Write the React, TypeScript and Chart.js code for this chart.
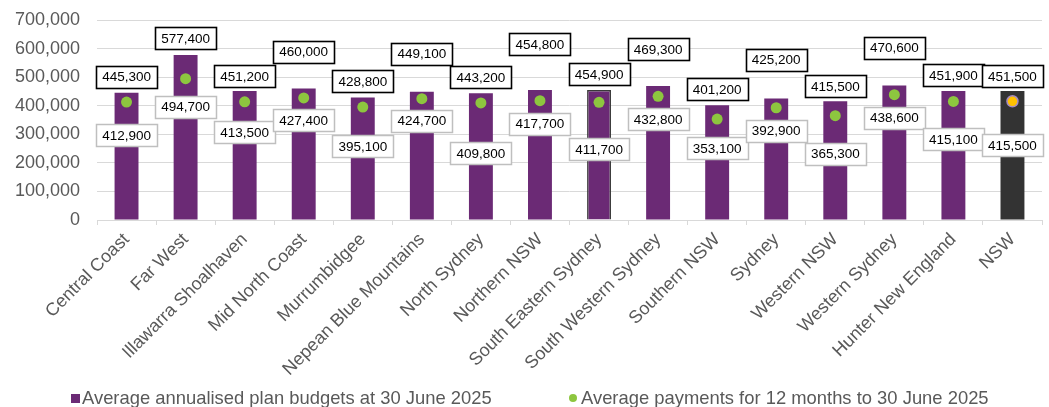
import React, { useEffect, useRef } from "react";
import { Chart, registerables } from "chart.js";

Chart.register(...registerables);

const categories = [
  "Central Coast",
  "Far West",
  "Illawarra Shoalhaven",
  "Mid North Coast",
  "Murrumbidgee",
  "Nepean Blue Mountains",
  "North Sydney",
  "Northern NSW",
  "South Eastern Sydney",
  "South Western Sydney",
  "Southern NSW",
  "Sydney",
  "Western NSW",
  "Western Sydney",
  "Hunter New England",
  "NSW",
];

const budgets = [
  445300, 577400, 451200, 460000, 428800, 449100, 443200, 454800, 454900,
  469300, 401200, 425200, 415500, 470600, 451900, 451500,
];

const payments = [
  412900, 494700, 413500, 427400, 395100, 424700, 409800, 417700, 411700,
  432800, 353100, 392900, 365300, 438600, 415100, 415500,
];

const yTicks = [0, 100000, 200000, 300000, 400000, 500000, 600000, 700000];

const seriesNames = [
  "Average annualised plan budgets at 30 June 2025",
  "Average payments for 12 months to 30 June 2025",
];

// label offsets (px) relative to the mark, mimicking manual placement
const budgetLabelLift = [16, 17, 15, 37, 16, 38, 16, 46, 16, 37, 16, 39, 15, 38, 16, 15];
const paymentLabelDrop = [33, 28, 30, 22, 39, 22, 50, 23, 47, 23, 29, 23, 38, 23, 38, 44];

const PURPLE = "#6B2A75";
const TOTAL_BAR = "#333333";
const GREEN = "#8DC63F";
const ORANGE = "#FFC000";
const FONT = '"Liberation Sans", Arial, sans-serif';

const fmt = (v: number) => v.toLocaleString("en-US");

const boxLabelPlugin = {
  id: "boxLabels",
  afterDatasetsDraw(chart: any) {
    const ctx = chart.ctx;
    const ptMeta = chart.getDatasetMeta(0);
    const barMeta = chart.getDatasetMeta(1);
    ctx.save();
    ctx.font = `13.5px ${FONT}`;
    ctx.textAlign = "center";
    ctx.textBaseline = "middle";
    const h = 22;
    const drawBox = (cx: number, cy: number, text: string, border: string, lw: number) => {
      const w = Math.round(ctx.measureText(text).width + 12);
      const x = Math.round(cx - w / 2) + 0.5;
      const y = Math.round(cy - h / 2) + 0.5;
      ctx.fillStyle = "#ffffff";
      ctx.fillRect(x, y, w, h);
      ctx.strokeStyle = border;
      ctx.lineWidth = lw;
      ctx.strokeRect(x, y, w, h);
      ctx.fillStyle = "#000000";
      ctx.fillText(text, cx, cy + 1);
    };
    barMeta.data.forEach((bar: any, i: number) => {
      drawBox(bar.x, bar.y - budgetLabelLift[i], fmt(budgets[i]), "#000000", 1.6);
    });
    ptMeta.data.forEach((pt: any, i: number) => {
      drawBox(pt.x, pt.y + paymentLabelDrop[i], fmt(payments[i]), "#BFBFBF", 1.5);
    });
    ctx.restore();
  },
};

export default function App() {
  const canvasRef = useRef<HTMLCanvasElement | null>(null);

  useEffect(() => {
    if (!canvasRef.current) return;
    const n = categories.length;
    const chart = new Chart(canvasRef.current, {
      data: {
        labels: categories,
        datasets: [
          {
            type: "line",
            label: seriesNames[1],
            data: payments,
            showLine: false,
            order: 0,
            pointRadius: 5.5,
            pointHoverRadius: 5.5,
            pointBackgroundColor: payments.map((_, i) => (i === n - 1 ? ORANGE : GREEN)),
            pointBorderColor: payments.map((_, i) => (i === n - 1 ? "#A58BC4" : GREEN)),
            pointBorderWidth: payments.map((_, i) => (i === n - 1 ? 1.5 : 0)),
          },
          {
            type: "bar",
            label: seriesNames[0],
            data: budgets,
            order: 1,
            backgroundColor: budgets.map((_, i) => (i === n - 1 ? TOTAL_BAR : PURPLE)),
            borderColor: budgets.map((_, i) => (i === 8 ? "#3A3A3A" : PURPLE)),
            borderWidth: budgets.map((_, i) => (i === 8 ? 1.5 : 0)),
            categoryPercentage: 1,
            barPercentage: 0.405,
          },
        ],
      } as any,
      options: {
        animation: false,
        responsive: true,
        maintainAspectRatio: false,
        layout: { padding: { top: 20, right: 4, left: 0, bottom: 0 } },
        plugins: {
          legend: { display: false },
          tooltip: { enabled: false },
        },
        scales: {
          x: {
            grid: {
              offset: true,
              drawOnChartArea: false,
              drawTicks: true,
              tickLength: 5,
              color: "#D9D9D9",
            },
            border: { color: "#D9D9D9", width: 1 },
            ticks: {
              autoSkip: false,
              minRotation: 45,
              maxRotation: 45,
              padding: 4,
              color: "#595959",
              font: { family: FONT, size: 18 },
            },
            afterFit: (scale: any) => {
              scale.height = 187;
            },
          },
          y: {
            min: 0,
            max: 700000,
            afterBuildTicks: (scale: any) => {
              scale.ticks = yTicks.map((v) => ({ value: v }));
            },
            grid: {
              color: "#D9D9D9",
              drawTicks: true,
              tickLength: 15,
              tickColor: "rgba(0,0,0,0)",
              lineWidth: 1,
            },
            border: { display: false },
            ticks: {
              padding: 2,
              color: "#595959",
              font: { family: FONT, size: 18 },
              callback: (v: any) => fmt(Number(v)),
            },
            afterFit: (scale: any) => {
              scale.width = 97;
            },
          },
        },
      },
      plugins: [boxLabelPlugin],
    });
    return () => chart.destroy();
  }, []);

  const legendText: React.CSSProperties = {
    fontFamily: FONT,
    fontSize: 18.4,
    color: "#595959",
    whiteSpace: "nowrap",
    lineHeight: "18px",
  };

  return (
    <div style={{ position: "fixed", left: 0, top: 0, width: 1049, height: 407, background: "#fff" }}>
      <canvas ref={canvasRef} />
      <div style={{ position: "absolute", left: 71, top: 389, display: "flex", alignItems: "center" }}>
        <span style={{ width: 9, height: 9, background: PURPLE, display: "inline-block", marginRight: 2 }} />
        <span style={legendText}>{seriesNames[0]}</span>
      </div>
      <div style={{ position: "absolute", left: 569, top: 389, display: "flex", alignItems: "center" }}>
        <span
          style={{ width: 8, height: 8, background: GREEN, borderRadius: "50%", display: "inline-block", marginRight: 4 }}
        />
        <span style={legendText}>{seriesNames[1]}</span>
      </div>
    </div>
  );
}
